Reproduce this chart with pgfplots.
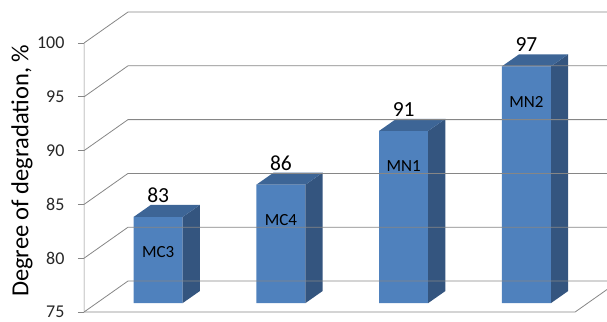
\documentclass[border=0pt]{standalone}
\usepackage{pgfplots}
\pgfplotsset{compat=1.18}
\usepackage{pgfplotstable}
\usepackage{fontspec}
\setmainfont{Carlito}
\definecolor{barfront}{HTML}{4F81BD}
\definecolor{bartop}{HTML}{3D6596}
\definecolor{barside}{HTML}{34557F}
\definecolor{gridc}{HTML}{868686}

\pgfplotstableread{
x v name
0 83 MC3
1 86 MC4
2 91 MN1
3 97 MN2
}\data

\newcommand\threedbar[2]{%
 \fill[bartop] (axis cs:{#1+0.404},{#2+0.835}) -- (axis cs:{#1+0.804},{#2+0.835}) -- (axis cs:{#1+0.944},{#2+1.955}) -- (axis cs:{#1+0.544},{#2+1.955}) -- cycle;
 \fill[barside] (axis cs:{#1+0.804},75.835) -- (axis cs:{#1+0.804},{#2+0.835}) -- (axis cs:{#1+0.944},{#2+1.955}) -- (axis cs:{#1+0.944},76.955) -- cycle;
 \node[anchor=base, font=\fontsize{21.5}{21.5}\selectfont] at (axis cs:{#1+0.604},{#2+2.2}) {#2};
}

\begin{document}
\begin{tikzpicture}
\begin{axis}[
 scale only axis, width=523pt, height=320pt,
 xmin=0, xmax=4.26, ymin=74.26, ymax=104,
 axis line style={draw=none},
 xtick=\empty, ytick={75,80,...,100}, ytick pos=left, tick align=outside,
 major tick length=6pt, tick style={gridc, line width=0.8pt},
 yticklabel style={font=\fontsize{18}{18}\selectfont, xshift=-10pt, text=black!85},
 /pgf/number format/assume math mode=true,
 ylabel={Degree of degradation, \%},
 every axis y label/.style={at={(axis description cs:-0.1185,0.466)}, rotate=90, anchor=center, font=\fontsize{24.5}{24.5}\selectfont},
 clip=true,
 ybar stacked, bar width=0.4,
]
\pgfplotsinvokeforeach{75,80,85,90,95,100}{
 \draw[gridc, line width=0.8pt] (axis cs:0,#1) -- (axis cs:0.358,{#1+2.88}) -- (axis cs:4.4,{#1+2.88});
}
\draw[gridc, line width=0.8pt] (axis cs:0,100) -- (axis cs:0,75) -- (axis cs:4,75) -- (axis cs:4.358,77.88);
\pgfplotsinvokeforeach{0,1,2,3}{%
  \pgfplotstablegetelem{#1}{v}\of\data \let\bv\pgfplotsretval
  \edef\tmp{\noexpand\threedbar{#1}{\bv}}\tmp
}
\addplot[draw=none, fill=none] table[x expr=\thisrow{x}+0.604, y expr=75.835] {\data};
\addplot[draw=none, fill=barfront] table[x expr=\thisrow{x}+0.604, y expr=\thisrow{v}-75] {\data};
\addplot[draw=none, fill=none, point meta=explicit symbolic,
  nodes near coords, every node near coord/.style={anchor=center, yshift=-35.4pt, font=\fontsize{17}{17}\selectfont, text=black}]
  table[x expr=\thisrow{x}+0.604, y expr=0.01, meta=name] {\data};
\end{axis}
\path (current axis.south west) ++(-84pt,0);
\end{tikzpicture}
\end{document}
